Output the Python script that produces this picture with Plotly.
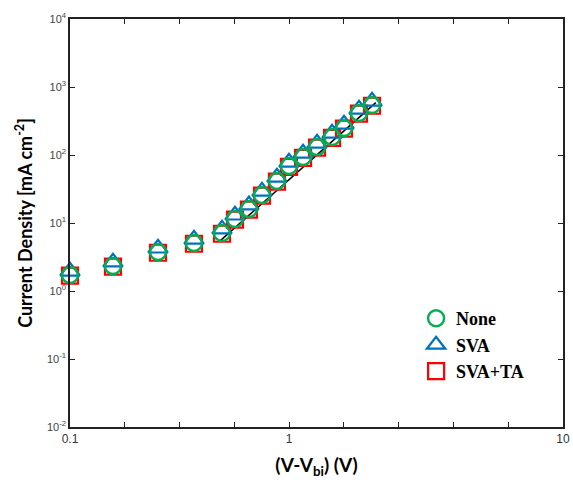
import plotly.graph_objects as go

# Data
voltage = [0.100, 0.1494, 0.2275, 0.3184, 0.4137, 0.467, 0.532, 0.601, 0.691,
           0.773, 0.882, 1.005, 1.156, 1.293, 1.487, 1.68]
j_none = [1.72, 2.33, 3.75, 5.08, 7.13, 11.5, 16.1, 25.8, 41.5,
          68.9, 93.5, 131, 184, 250, 415, 543]
j_sva = [1.95, 2.65, 4.25, 5.75, 8.1, 13.0, 18.3, 29.2, 47.0,
         78, 106, 148, 208, 283, 470, 615]
j_svata = [1.68, 2.28, 3.65, 4.95, 6.95, 11.2, 15.7, 25.2, 40.5,
           67, 91, 128, 179, 244, 405, 530]

fit_x = [0.405, 1.74]
fit_y = [5.4, 590]

x_tickvals = [0.1, 0.1668, 0.2783, 0.4642, 0.7743, 1.2915, 2.1544, 3.5938, 5.9948, 10]
x_ticktext = ["0.1", "", "", "", "1", "", "", "", "", "10"]
y_tickvals = [0.01, 0.1, 1, 10, 100, 1000, 10000]
y_ticktext = ["10<sup>-2</sup>", "10<sup>-1</sup>", "10<sup>0</sup>", "10<sup>1</sup>",
              "10<sup>2</sup>", "10<sup>3</sup>", "10<sup>4</sup>"]

GREEN = "#00B050"
BLUE = "#0070C0"
RED = "#FF0000"

fig = go.Figure()

fig.add_trace(go.Scatter(x=fit_x, y=fit_y, mode="lines",
                         line=dict(color="black", width=1.6), showlegend=False,
                         hoverinfo="skip"))

fig.add_trace(go.Scatter(x=voltage, y=j_svata, mode="markers", name="SVA+TA",
                         legendrank=3, legendgroup="c", cliponaxis=False,
                         marker=dict(symbol="square-open", size=16,
                                     color=RED, line=dict(color=RED, width=2.2))))
fig.add_trace(go.Scatter(x=voltage, y=j_sva, mode="markers", name="SVA",
                         legendrank=2, legendgroup="b", cliponaxis=False,
                         marker=dict(symbol="triangle-up-open", size=17,
                                     color=BLUE, line=dict(color=BLUE, width=2.2))))
fig.add_trace(go.Scatter(x=voltage, y=j_none, mode="markers", name="None",
                         legendrank=1, legendgroup="a", cliponaxis=False,
                         marker=dict(symbol="circle-open", size=16,
                                     color=GREEN, line=dict(color=GREEN, width=2.4))))

axis_common = dict(showgrid=False, zeroline=False, showline=True,
                   linecolor="#222", linewidth=1.5, mirror="ticks",
                   ticks="inside", ticklen=5, tickwidth=1.2, tickcolor="#222",
                   automargin=False)

fig.update_xaxes(type="log", range=[-1, 1], tickmode="array",
                 tickvals=x_tickvals, ticktext=x_ticktext,
                 tickfont=dict(family="Liberation Sans", size=12, color="#333"),
                 title=dict(text="(V-V<sub>bi</sub>) (V)",
                            font=dict(family="Lato", size=19, color="black", weight="bold"),
                            standoff=14),
                 **axis_common)
fig.update_yaxes(type="log", range=[-2, 4], tickmode="array",
                 tickvals=y_tickvals, ticktext=y_ticktext,
                 tickfont=dict(family="Liberation Sans", size=11, color="#444"),
                 title=dict(text="Current Density [mA cm<sup>-2</sup>]",
                            font=dict(family="Lato", size=18, color="black", weight="bold"),
                            standoff=10),
                 **axis_common)

fig.update_layout(
    width=573, height=483,
    margin=dict(l=70, r=10, t=19, b=56),
    plot_bgcolor="white", paper_bgcolor="white",
    legend=dict(x=0.702, y=0.311, xanchor="left", yanchor="top",
                traceorder="grouped", tracegroupgap=0,
                bgcolor="rgba(0,0,0,0)",
                font=dict(family="Liberation Serif", size=18, color="black", weight="bold")),
)

fig.write_html("out.html")
